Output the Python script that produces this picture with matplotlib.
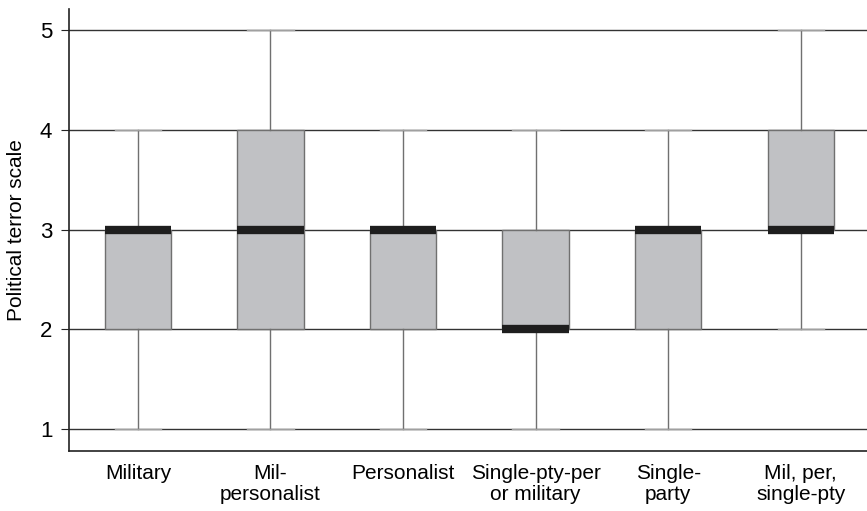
import matplotlib
matplotlib.use("Agg")
import matplotlib.pyplot as plt

# Regime categories and box summary values (political terror scale)
labels = ["Military", "Mil-\npersonalist", "Personalist", "Single-pty-per\nor military",
          "Single-\nparty", "Mil, per,\nsingle-pty"]
whislo = [1, 1, 1, 1, 1, 2]
q1 = [2, 2, 2, 2, 2, 3]
med = [3, 3, 3, 2, 3, 3]
q3 = [3, 4, 3, 3, 3, 4]
whishi = [4, 5, 4, 4, 4, 5]

plt.rcParams['font.family'] = ['Liberation Sans', 'DejaVu Sans']

stats = []
for lab, lo, a, m, b, hi in zip(labels, whislo, q1, med, q3, whishi):
    stats.append(dict(label=lab, whislo=lo, q1=a, med=m, q3=b, whishi=hi, fliers=[]))

fig = plt.figure(figsize=(8.67, 5.11), dpi=100)
ax = fig.add_axes([0.0796, 0.1174, 0.9204, 0.8650])

ax.set_axisbelow(True)
ax.yaxis.grid(True, color="#333333", linewidth=1.0)

ax.bxp(stats, positions=range(1, 7), widths=0.5, patch_artist=True, showfliers=False,
       boxprops=dict(facecolor="#c0c1c4", edgecolor="#707070", linewidth=1.0),
       whiskerprops=dict(color="#707070", linewidth=1.0),
       capprops=dict(color="#a0a0a0", linewidth=1.0),
       medianprops=dict(color="#1e1e1e", linewidth=6, solid_capstyle="butt"),
       capwidths=0.35)

ax.set_xlim(0.48, 6.5)
ax.set_ylim(0.78, 5.21)
ax.set_yticks([1, 2, 3, 4, 5])
ax.set_ylabel("Political terror scale", fontsize=15, labelpad=10)
ax.tick_params(axis="y", labelsize=16, length=6, pad=6, color="#222222")
ax.tick_params(axis="x", labelsize=15, length=0, pad=9)
for t in ax.get_xticklabels():
    t.set_linespacing(1.15)

for s in ["top", "right"]:
    ax.spines[s].set_visible(False)
for s in ["left", "bottom"]:
    ax.spines[s].set_color("#222222")
    ax.spines[s].set_linewidth(1.2)

fig.savefig("out.png", dpi=100)
